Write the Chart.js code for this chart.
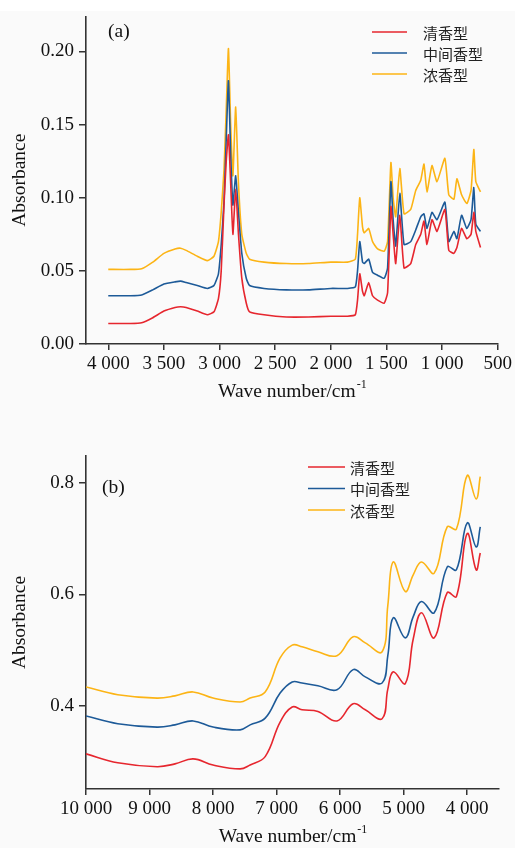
<!DOCTYPE html>
<html>
<head>
<meta charset="utf-8">
<script src="https://cdn.jsdelivr.net/npm/chart.js@4"></script>
<style>
  html, body { margin: 0; padding: 0; }
  body { width: 515px; height: 848px; background: #fafafa; position: relative; overflow: hidden; }
  .top-strip { position: absolute; left: 0; top: 0; width: 515px; height: 11px; background: #fff; }
  #chartA { position: absolute; left: 0; top: 0; width: 515px; height: 405px; }
  #chartB { position: absolute; left: 0; top: 410px; width: 515px; height: 438px; }
</style>
</head>
<body>
<div class="top-strip"></div>
<canvas id="chartA" width="515" height="405"></canvas>
<canvas id="chartB" width="515" height="438"></canvas>
<script>
const seriesNames = ['清香型', '中间香型', '浓香型'];
const seriesColors = ['#e6262e', '#1d5a98', '#fcb415'];

// (a) mid-infrared
const wavenumbersA = [4000, 3800, 3700, 3600, 3500, 3400, 3350, 3300, 3200, 3110, 3050, 3010, 2985, 2960, 2940, 2920, 2900, 2880, 2855, 2830, 2800, 2760, 2730, 2600, 2400, 2200, 2000, 1850, 1780, 1760, 1740, 1715, 1700, 1660, 1625, 1580, 1520, 1490, 1460, 1440, 1417, 1380, 1342, 1282, 1237, 1192, 1163, 1136, 1091, 1046, 975, 940, 894, 867, 825, 778, 740, 715, 697, 655];
const qingA = [0.014, 0.014, 0.0145, 0.018, 0.0225, 0.025, 0.0255, 0.025, 0.0225, 0.020, 0.022, 0.031, 0.05, 0.095, 0.125, 0.143, 0.11, 0.075, 0.106, 0.075, 0.045, 0.028, 0.022, 0.020, 0.0185, 0.0185, 0.019, 0.019, 0.020, 0.03, 0.048, 0.036, 0.033, 0.042, 0.033, 0.030, 0.028, 0.035, 0.094, 0.075, 0.055, 0.088, 0.052, 0.055, 0.068, 0.075, 0.084, 0.068, 0.085, 0.077, 0.092, 0.064, 0.062, 0.066, 0.079, 0.072, 0.075, 0.090, 0.077, 0.066];
const zhongA = [0.033, 0.033, 0.0335, 0.037, 0.041, 0.0425, 0.043, 0.042, 0.040, 0.038, 0.040, 0.048, 0.068, 0.097, 0.14, 0.18, 0.13, 0.095, 0.115, 0.09, 0.062, 0.045, 0.040, 0.038, 0.037, 0.037, 0.038, 0.038, 0.039, 0.05, 0.070, 0.056, 0.055, 0.058, 0.049, 0.047, 0.045, 0.052, 0.111, 0.085, 0.067, 0.103, 0.068, 0.070, 0.078, 0.087, 0.089, 0.079, 0.090, 0.085, 0.097, 0.070, 0.077, 0.072, 0.088, 0.079, 0.085, 0.107, 0.082, 0.077];
const nongA = [0.051, 0.051, 0.0515, 0.056, 0.062, 0.065, 0.0655, 0.064, 0.060, 0.057, 0.060, 0.070, 0.09, 0.119, 0.16, 0.202, 0.15, 0.115, 0.162, 0.11, 0.075, 0.062, 0.058, 0.056, 0.055, 0.055, 0.056, 0.056, 0.058, 0.075, 0.100, 0.080, 0.076, 0.079, 0.070, 0.065, 0.0635, 0.07, 0.124, 0.100, 0.087, 0.120, 0.089, 0.092, 0.105, 0.112, 0.123, 0.104, 0.122, 0.111, 0.127, 0.102, 0.099, 0.113, 0.102, 0.096, 0.105, 0.133, 0.111, 0.104];
const xTicksA = [4000, 3500, 3000, 2500, 2000, 1500, 1000, 500];
const yTicksA = [0, 0.05, 0.10, 0.15, 0.20];

// (b) near-infrared
const wavenumbersB = [10000, 9500, 8880, 8600, 8315, 8000, 7575, 7417, 7180, 6945, 6755, 6600, 6350, 6050, 5795, 5605, 5340, 5250, 5165, 4975, 4850, 4720, 4520, 4315, 4170, 4000, 3860, 3795];
const qingB = [0.314, 0.298, 0.291, 0.296, 0.305, 0.294, 0.287, 0.294, 0.309, 0.371, 0.398, 0.393, 0.390, 0.373, 0.404, 0.393, 0.377, 0.43, 0.461, 0.44, 0.52, 0.567, 0.522, 0.603, 0.596, 0.709, 0.644, 0.674];
const zhongB = [0.382, 0.368, 0.362, 0.366, 0.373, 0.362, 0.357, 0.366, 0.378, 0.423, 0.443, 0.441, 0.436, 0.429, 0.465, 0.452, 0.441, 0.49, 0.558, 0.522, 0.56, 0.587, 0.567, 0.649, 0.644, 0.728, 0.685, 0.721];
const nongB = [0.434, 0.42, 0.414, 0.418, 0.425, 0.414, 0.407, 0.414, 0.425, 0.486, 0.509, 0.506, 0.497, 0.49, 0.524, 0.513, 0.497, 0.58, 0.658, 0.605, 0.635, 0.658, 0.638, 0.721, 0.717, 0.813, 0.771, 0.811];
const xTicksB = [10000, 9000, 8000, 7000, 6000, 5000, 4000];
const yTicksB = [0.4, 0.6, 0.8];

const serif = '"Liberation Serif", "Times New Roman", serif';

function spaced(v) {
  return String(v).replace(/\B(?=(\d{3})+(?!\d))/g, ' ');
}

function makeDatasets(xs, lists, tension) {
  return lists.map((vals, i) => ({
    label: seriesNames[i],
    data: xs.map((x, j) => ({ x: x, y: vals[j] })),
    borderColor: seriesColors[i],
    borderWidth: 1.6,
    pointRadius: 0,
    tension: tension,
    fill: false
  }));
}

// legend, panel letter and the x title with its superscript
const annotate = {
  id: 'annotate',
  afterDraw(chart, args, o) {
    const ctx = chart.ctx;
    const area = chart.chartArea;
    ctx.save();
    ctx.textAlign = 'left';
    ctx.textBaseline = 'middle';
    ctx.fillStyle = '#111';
    ctx.font = '19.5px ' + serif;
    ctx.fillText(o.panel, o.panelX, o.panelY);

    chart.data.datasets.forEach((ds, i) => {
      const y = o.legendY + i * o.legendGap;
      ctx.strokeStyle = ds.borderColor;
      ctx.lineWidth = 1.6;
      ctx.beginPath();
      ctx.moveTo(o.legendX, y);
      ctx.lineTo(o.legendX + o.legendLen, y);
      ctx.stroke();
      ctx.font = '15px "Noto Sans CJK SC"';
      ctx.fillStyle = '#222';
      ctx.fillText(ds.label, o.legendTextX, y + 1);
    });

    const main = 'Wave number/cm';
    const sup = '-1';
    ctx.font = '19.5px ' + serif;
    const wMain = ctx.measureText(main).width;
    ctx.font = '12px ' + serif;
    const wSup = ctx.measureText(sup).width;
    const x0 = (area.left + area.right) / 2 - (wMain + wSup) / 2;
    ctx.textBaseline = 'alphabetic';
    ctx.fillStyle = '#111';
    ctx.font = '19.5px ' + serif;
    ctx.fillText(main, x0, o.titleY);
    ctx.font = '12px ' + serif;
    ctx.fillText(sup, x0 + wMain + 1, o.titleY - 9);
    ctx.restore();
  }
};

function axisX(min, max, ticks, height) {
  return {
    type: 'linear',
    reverse: true,
    min: min,
    max: max,
    afterBuildTicks: s => { s.ticks = ticks.map(v => ({ value: v })); },
    afterFit: s => { s.height = height; },
    grid: { drawOnChartArea: false, drawTicks: true, tickLength: 6, color: '#333', lineWidth: 1.5 },
    border: { display: true, color: '#333', width: 1.6 },
    ticks: {
      font: { family: serif, size: 19 },
      color: '#111',
      padding: 3,
      maxRotation: 0,
      autoSkip: false,
      callback: v => spaced(v)
    }
  };
}

function axisY(min, max, ticks, digits) {
  return {
    min: min,
    max: max,
    afterBuildTicks: s => { s.ticks = ticks.map(v => ({ value: v })); },
    afterFit: s => { s.width = 86; },
    grid: { drawOnChartArea: false, drawTicks: true, tickLength: 7, color: '#333', lineWidth: 1.5 },
    border: { display: true, color: '#333', width: 1.6 },
    title: {
      display: true,
      text: 'Absorbance',
      font: { family: serif, size: 19.5 },
      color: '#111',
      padding: { top: 8, bottom: 0 }
    },
    ticks: {
      font: { family: serif, size: 19 },
      color: '#111',
      padding: 5,
      callback: v => v.toFixed(digits)
    }
  };
}

new Chart(document.getElementById('chartA'), {
  type: 'line',
  data: { datasets: makeDatasets(wavenumbersA, [qingA, zhongA, nongA], 0.15) },
  options: {
    responsive: false,
    animation: false,
    layout: { padding: { left: 0, right: 16, top: 12, bottom: 0 } },
    scales: {
      x: axisX(500, 4200, xTicksA, 61),
      y: axisY(0, 0.224, yTicksA, 2)
    },
    plugins: {
      legend: { display: false },
      tooltip: { enabled: false },
      annotate: {
        panel: '(a)', panelX: 108, panelY: 32,
        legendX: 372, legendLen: 35, legendTextX: 423, legendY: 32, legendGap: 21,
        titleY: 397
      }
    }
  },
  plugins: [annotate]
});

new Chart(document.getElementById('chartB'), {
  type: 'line',
  data: { datasets: makeDatasets(wavenumbersB, [qingB, zhongB, nongB], 0.4) },
  options: {
    responsive: false,
    animation: false,
    layout: { padding: { left: 0, right: 16, top: 46, bottom: 0 } },
    scales: {
      x: axisX(3500, 10000, xTicksB, 59),
      y: axisY(0.251, 0.848, yTicksB, 1)
    },
    plugins: {
      legend: { display: false },
      tooltip: { enabled: false },
      annotate: {
        panel: '(b)', panelX: 102, panelY: 78,
        legendX: 308, legendLen: 37, legendTextX: 350, legendY: 57, legendGap: 21.5,
        titleY: 432
      }
    }
  },
  plugins: [annotate]
});
</script>
</body>
</html>
